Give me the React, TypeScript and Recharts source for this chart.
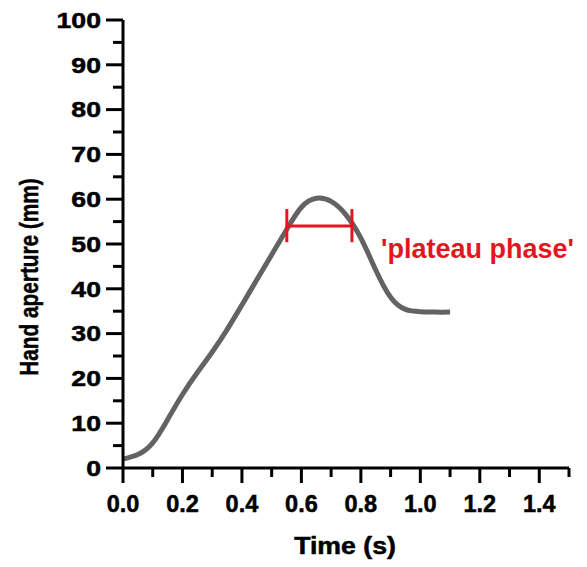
import React from "react";
import { LineChart, Line, XAxis, YAxis, ReferenceLine, ReferenceDot } from "recharts";

const times = [0, 0.05, 0.1, 0.15, 0.2, 0.25, 0.3, 0.35, 0.4, 0.45, 0.5, 0.55, 0.6, 0.65, 0.7, 0.75, 0.8, 0.85, 0.9, 0.95, 1.0, 1.05, 1.1];
const aperture = [2, 3, 5.6, 10.8, 16.4, 21.3, 25.9, 30.9, 36.4, 42, 47.6, 53.2, 58.2, 60.2, 59.5, 56.5, 51.3, 44.2, 38.1, 35.4, 34.9, 34.8, 34.8];

const xMajorTicks = [0, 0.2, 0.4, 0.6, 0.8, 1.0, 1.2, 1.4];
const xMinorTicks = [0.1, 0.3, 0.5, 0.7, 0.9, 1.1, 1.3, 1.5];
const yMajorTicks = [0, 10, 20, 30, 40, 50, 60, 70, 80, 90, 100];
const yMinorTicks = [5, 15, 25, 35, 45, 55, 65, 75, 85, 95];

const plateauStart = 0.551;
const plateauEnd = 0.77;
const plateauLevel = 54;
const plateauCapLow = 50.4;
const plateauCapHigh = 57.8;
const plateauLabel = "'plateau phase'";
const plateauLabelX = 0.868;
const plateauLabelY = 46.9;

const xLabel = "Time (s)";
const yLabel = "Hand aperture (mm)";

const data = times.map((t, i) => ({ t, v: aperture[i] }));

const FONT = "'Liberation Sans', Arial, sans-serif";
const RED = "#e3161f";

const isMajor = (arr: number[], v: number) => arr.some((a) => Math.abs(a - v) < 1e-6);

const XTick = (props: any) => {
  const { x, y, payload } = props;
  const major = isMajor(xMajorTicks, payload.value);
  return (
    <g>
      <line x1={x} x2={x} y1={y} y2={y + (major ? 15 : 9)} stroke="#000" strokeWidth={3} />
      {major && (
        <text
          x={x}
          y={y + 44}
          textAnchor="middle"
          fontFamily={FONT}
          fontWeight="bold"
          fontSize={23.5}
          fill="#000"
          stroke="#000"
          strokeWidth={0.5}
        >
          {payload.value.toFixed(1)}
        </text>
      )}
    </g>
  );
};

const YTick = (props: any) => {
  const { x, y, payload } = props;
  const major = isMajor(yMajorTicks, payload.value);
  return (
    <g>
      <line x1={x} x2={x - (major ? 17 : 10)} y1={y} y2={y} stroke="#000" strokeWidth={3} />
      {major && (
        <text
          transform={`translate(${x - 22},${y + 7.8}) scale(1.24,1)`}
          textAnchor="end"
          fontFamily={FONT}
          fontWeight="bold"
          fontSize={21.5}
          fill="#000"
          stroke="#000"
          strokeWidth={0.5}
        >
          {payload.value}
        </text>
      )}
    </g>
  );
};

export default function App() {
  return (
    <div style={{ position: "absolute", left: 0, top: 0, width: 587, height: 567, background: "#fff" }}>
      <LineChart width={587} height={567} data={data} margin={{ top: 20, right: 18, bottom: 49, left: 63 }}>
        <XAxis
          dataKey="t"
          type="number"
          domain={[0, 1.5]}
          ticks={[...xMajorTicks, ...xMinorTicks].sort((a, b) => a - b)}
          interval={0}
          tickLine={false}
          tickSize={0}
          tickMargin={0}
          tick={<XTick />}
          axisLine={{ stroke: "#000", strokeWidth: 3 }}
          height={50}
          allowDataOverflow
          label={{
            content: () => (
              <text
                transform="translate(345,554) scale(1.16,1)"
                textAnchor="middle"
                fontFamily={FONT}
                fontWeight="bold"
                fontSize={23}
                fill="#000"
                stroke="#000"
                strokeWidth={0.5}
              >
                {xLabel}
              </text>
            ),
          }}
        />
        <YAxis
          type="number"
          domain={[0, 100]}
          ticks={[...yMajorTicks, ...yMinorTicks].sort((a, b) => a - b)}
          interval={0}
          tickLine={false}
          tickSize={0}
          tickMargin={0}
          tick={<YTick />}
          axisLine={{ stroke: "#000", strokeWidth: 3 }}
          width={60}
          allowDataOverflow
          label={{
            content: () => (
              <text
                transform="translate(38,277) rotate(-90) scale(0.8,1)"
                textAnchor="middle"
                fontFamily={FONT}
                fontWeight="bold"
                fontSize={26}
                fill="#000"
                stroke="#000"
                strokeWidth={0.5}
              >
                {yLabel}
              </text>
            ),
          }}
        />
        <Line
          type="natural"
          dataKey="v"
          stroke="#636363"
          strokeWidth={5}
          dot={false}
          isAnimationActive={false}
        />
        <ReferenceLine
          segment={[{ x: plateauStart, y: plateauLevel }, { x: plateauEnd, y: plateauLevel }]}
          stroke={RED}
          strokeWidth={3}
        />
        <ReferenceLine
          segment={[{ x: plateauStart, y: plateauCapLow }, { x: plateauStart, y: plateauCapHigh }]}
          stroke={RED}
          strokeWidth={3}
        />
        <ReferenceLine
          segment={[{ x: plateauEnd, y: plateauCapLow }, { x: plateauEnd, y: plateauCapHigh }]}
          stroke={RED}
          strokeWidth={3}
        />
        <ReferenceDot
          x={plateauLabelX}
          y={plateauLabelY}
          r={0}
          shape={(p: any) => (
            <text x={p.cx} y={p.cy} fontFamily={FONT} fontWeight="bold" fontSize={27} fill={RED}>
              {plateauLabel}
            </text>
          )}
        />
      </LineChart>
    </div>
  );
}
